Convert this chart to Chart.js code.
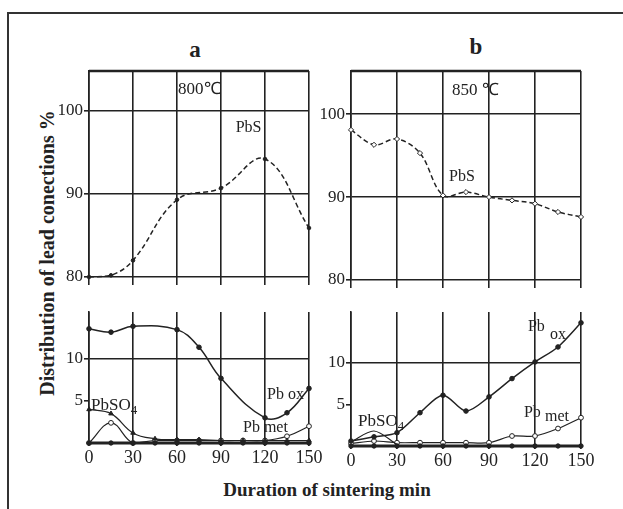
<!DOCTYPE html>
<html>
<head>
<meta charset="utf-8">
<script src="https://cdn.jsdelivr.net/npm/chart.js@4.4.1/dist/chart.umd.min.js"></script>
<style>
  body { margin: 0; background: #fff; width: 623px; height: 509px; overflow: hidden; position: relative; font-family: "Liberation Serif", serif; }
  .frame { position: absolute; left: 7px; top: 12px; width: 700px; height: 600px; border: 2px solid #333; }
  canvas { position: absolute; left: 0; top: 0; }
  .t { position: absolute; font-weight: bold; color: #222; white-space: nowrap; transform: translate(-50%, -50%); }
</style>
</head>
<body>
<div class="frame"></div>
<div class="t" style="left:195px;top:50px;font-size:23px">a</div>
<div class="t" style="left:476px;top:47px;font-size:23px">b</div>
<div class="t" style="left:47px;top:253px;font-size:20px;transform:translate(-50%,-50%) rotate(-90deg)">Distribution of lead conections %</div>
<div class="t" style="left:327px;top:490px;font-size:19px">Duration of sintering min</div>
<canvas id="aTop" width="623" height="509"></canvas>
<canvas id="aBot" width="623" height="509"></canvas>
<canvas id="bTop" width="623" height="509"></canvas>
<canvas id="bBot" width="623" height="509"></canvas>
<script>
// 공통 x축 (분)
const minutes = [0, 15, 30, 45, 60, 75, 90, 105, 120, 135, 150];
const xTicks = [0, 30, 60, 90, 120, 150];
const topTicks = [80, 90, 100];
const bottomTicks = [5, 10];

// a: 800℃
const aPbsX = [0, 15, 30, 60, 90, 120, 150];
const aPbsY = [80, 80.2, 82, 89.3, 90.7, 94.2, 85.9];
const aPbOxX = [0, 15, 30, 60, 75, 90, 120, 135, 150];
const aPbOxY = [13.6, 13.2, 13.9, 13.5, 11.4, 7.7, 3.0, 3.6, 6.5];
const aPbSO4Y = [4.0, 3.5, 1.2, 0.5, 0.4, 0.4, 0.3, 0.3, 0.3, 0.3, 0.3];
const aPbMetY = [0, 2.4, 0, 0.3, 0.3, 0.3, 0.3, 0.3, 0.3, 0.8, 2.0];
const aBaseY = [0, 0, 0, 0, 0, 0, 0, 0, 0, 0, 0];

// b: 850℃
const bPbsY = [98.1, 96.3, 97.0, 95.3, 90.2, 90.6, 90.0, 89.6, 89.2, 88.2, 87.6];
const bPbOxY = [0.6, 1.1, 1.6, 4.0, 6.1, 4.2, 5.9, 8.1, 10.1, 11.9, 14.8];
const bPbSO4X = [0, 15, 30];
const bPbSO4Y = [0.5, 1.8, 0.2];
const bPbMetY = [0.3, 0.6, 0.4, 0.4, 0.4, 0.4, 0.4, 1.2, 1.2, 2.1, 3.4];
const bBaseY = [0, 0, 0, 0, 0, 0, 0, 0, 0, 0, 0];

const INK = '#222';
const zip = (xs, ys) => xs.map((x, i) => ({ x, y: ys[i] }));

function series(xs, ys, opts) {
  return Object.assign({
    data: zip(xs, ys),
    borderColor: INK,
    backgroundColor: INK,
    pointBorderColor: INK,
    borderWidth: 1.5,
    pointRadius: 2.3,
    pointBorderWidth: 1,
    tension: 0.4,
    clip: false
  }, opts);
}

// 주석 텍스트 + 상단 테두리
function notesPlugin(notes, topLine) {
  return {
    id: 'notes',
    afterDatasetsDraw(chart) {
      const { ctx, chartArea, scales: { x, y } } = chart;
      ctx.save();
      if (topLine) {
        ctx.strokeStyle = INK;
        ctx.lineWidth = 2.5;
        ctx.beginPath();
        ctx.moveTo(chartArea.left, chartArea.top);
        ctx.lineTo(chartArea.right, chartArea.top);
        ctx.stroke();
      }
      ctx.fillStyle = INK;
      ctx.textBaseline = 'middle';
      ctx.textAlign = 'left';
      notes.forEach(n => {
        ctx.font = (n.size || 16) + 'px "Liberation Serif", serif';
        const px = x.getPixelForValue(n.x);
        const py = y.getPixelForValue(n.y);
        ctx.fillText(n.text, px, py);
        if (n.sub) {
          const w = ctx.measureText(n.text).width;
          ctx.font = '13px "Liberation Serif", serif';
          ctx.fillText(n.sub, px + w, py + 5);
        }
      });
      ctx.restore();
    }
  };
}

function makePanel(id, box, yMin, yMax, yTicks, isTop, datasets, notes) {
  new Chart(document.getElementById(id), {
    type: 'line',
    data: { datasets },
    options: {
      responsive: false,
      animation: false,
      events: [],
      layout: {
        padding: { left: box.left - 40, right: 623 - box.right, top: box.top, bottom: 509 - box.bottom - 30 }
      },
      plugins: { legend: { display: false }, tooltip: { enabled: false } },
      scales: {
        x: {
          type: 'linear', min: 0, max: 150,
          afterBuildTicks: s => { s.ticks = xTicks.map(v => ({ value: v })); },
          afterFit: s => { s.height = 30; },
          grid: { color: INK, lineWidth: 1.6, tickLength: isTop ? 8 : 3 },
          border: { display: false },
          ticks: { display: !isTop, color: INK, font: { family: 'Liberation Serif', size: 18 }, padding: 1, maxRotation: 0 }
        },
        y: {
          min: yMin, max: yMax,
          afterBuildTicks: s => { s.ticks = yTicks.map(v => ({ value: v })); },
          afterFit: s => { s.width = 40; },
          grid: {
            color: c => (isTop || (c.tick && c.tick.value === 10)) ? INK : 'rgba(0,0,0,0)',
            tickColor: INK, tickLength: 5, lineWidth: 1.6
          },
          border: { display: true, color: INK, width: 1.6 },
          ticks: { color: INK, font: { family: 'Liberation Serif', size: 17 }, padding: 1 }
        }
      }
    },
    plugins: [notesPlugin(notes, isTop)]
  });
}

makePanel('aTop', { left: 89, right: 309, top: 71, bottom: 277 }, 80, 104.8, topTicks, true, [
  series(aPbsX, aPbsY, { borderDash: [5, 3], pointRadius: 1.8 })
], [
  { text: '800℃', x: 60.7, y: 102.6, size: 17 },
  { text: 'PbS', x: 100, y: 98 }
]);

makePanel('aBot', { left: 89, right: 309, top: 312, bottom: 443 }, 0, 15.6, bottomTicks, false, [
  series(minutes, aBaseY, { borderWidth: 3, tension: 0, pointRadius: 2.2 }),
  series(aPbOxX, aPbOxY, {}),
  series(minutes, aPbSO4Y, { pointStyle: 'triangle', pointRadius: 2.6, borderWidth: 1.2 }),
  series(minutes, aPbMetY, { backgroundColor: '#fff', pointRadius: 2.4, borderWidth: 1.2 })
], [
  { text: 'PbSO', sub: '4', x: 1.4, y: 4.5, size: 17 },
  { text: 'Pb ox', x: 121.4, y: 5.7 },
  { text: 'Pb met', x: 105, y: 1.8 }
]);

makePanel('bTop', { left: 351, right: 581, top: 71, bottom: 280 }, 80, 105.2, topTicks, true, [
  series(minutes, bPbsY, { borderDash: [5, 3], pointStyle: 'rectRot', backgroundColor: '#fff', pointRadius: 2.6, tension: 0.35 })
], [
  { text: '850 ℃', x: 65.9, y: 102.9, size: 17 },
  { text: 'PbS', x: 63.9, y: 92.4 }
]);

makePanel('bBot', { left: 351, right: 581, top: 312, bottom: 446 }, 0, 16.1, bottomTicks, false, [
  series(minutes, bBaseY, { borderWidth: 3, tension: 0, pointRadius: 2.2 }),
  series(minutes, bPbOxY, { tension: 0.3 }),
  series(bPbSO4X, bPbSO4Y, { pointRadius: 0, borderWidth: 1.2, tension: 0.3 }),
  series(minutes, bPbMetY, { backgroundColor: '#fff', pointRadius: 2.4, borderWidth: 1.2, tension: 0.3 })
], [
  { text: 'PbSO', sub: '4', x: 4.6, y: 2.9, size: 17 },
  { text: 'Pb', x: 115.4, y: 14.3 },
  { text: 'ox', x: 129.8, y: 13.4 },
  { text: 'Pb', x: 112.8, y: 4.0 },
  { text: 'met', x: 126.5, y: 3.5 }
]);
</script>
</body>
</html>
